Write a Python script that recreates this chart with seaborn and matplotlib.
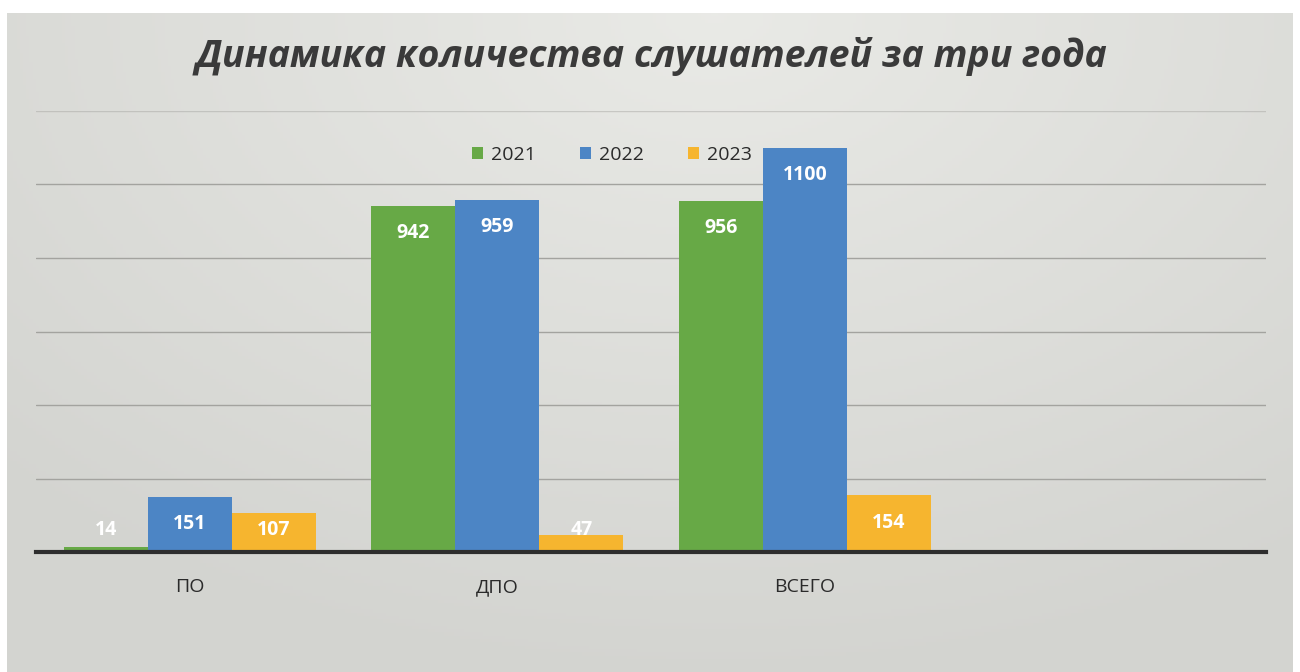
import numpy as np
import pandas as pd
import matplotlib
matplotlib.use("Agg")
import matplotlib.pyplot as plt
import seaborn as sns

# ---- data ----
categories = ["ПО", "ДПО", "ВСЕГО", ""]
years = ["2021", "2022", "2023"]
values_2021 = [14, 942, 956]
values_2022 = [151, 959, 1100]
values_2023 = [107, 47, 154]
title_text = "Динамика количества слушателей за три года"

colors = ["#67a946", "#4c85c5", "#f6b52f"]

rows = []
for yr, vals in zip(years, [values_2021, values_2022, values_2023]):
    for cat, v in zip(categories[:3], vals):
        rows.append({"cat": cat, "year": yr, "value": v})
df = pd.DataFrame(rows)

sns.set_theme(style="white")
plt.rcParams["font.family"] = ["Open Sans", "DejaVu Sans"]

W, H = 1300, 672
fig = plt.figure(figsize=(W / 100, H / 100), dpi=100, facecolor="white")

# scanned-paper background
bg = fig.add_axes([7 / W, 0, (1292 - 7) / W, (H - 13) / H])
yy, xx = np.mgrid[0:1:200j, 0:1:400j]
d = np.sqrt(((xx - 0.55) * 1.3) ** 2 + (yy * 1.0) ** 2)
val = 0.915 - 0.085 * np.clip(d, 0, 1)
img = np.dstack([val, val + 0.003, val - 0.012])
bg.imshow(np.clip(img, 0, 1), aspect="auto", extent=[0, 1, 0, 1], origin="upper")
bg.set_axis_off()

ax = fig.add_axes([36 / W, 1 - 552 / H, (1266 - 36) / W, (552 - 111) / H])
ax.patch.set_alpha(0)

sns.barplot(data=df, x="cat", y="value", hue="year", order=categories,
            hue_order=years, palette=colors, width=0.82, gap=0,
            saturation=1, ax=ax, legend=True, edgecolor="none", linewidth=0)

ax.set_xlim(-0.5, len(categories) - 0.5)
ax.set_ylim(0, 1200)
ax.set_yticks(range(200, 1201, 200))
ax.yaxis.grid(True, color="#a3a39f", linewidth=1.0)
gl = ax.get_ygridlines()
gl[-1].set_alpha(0.45)
ax.set_axisbelow(True)
ax.tick_params(axis="y", left=False, labelleft=False)
ax.tick_params(axis="x", bottom=False, pad=13, labelsize=14, labelcolor="#2a2a2a")
ax.set_xlabel("")
ax.set_ylabel("")
for s in ["top", "left", "right"]:
    ax.spines[s].set_visible(False)
ax.spines["bottom"].set_color("#2e2e2e")
ax.spines["bottom"].set_linewidth(3)

# data labels
for cont in ax.containers:
    for bar in cont:
        h = bar.get_height()
        if np.isnan(h):
            continue
        cx = bar.get_x() + bar.get_width() / 2
        ax.text(cx, max(h - 75, 60), f"{int(round(h))}", ha="center", va="center",
                color="white", fontsize=14, fontweight="bold")

# legend
handles, labels = ax.get_legend_handles_labels()
ax.legend_.remove()
fig.legend(handles, labels, loc="center", bbox_to_anchor=(612 / W, 1 - 155 / H),
           ncol=3, frameon=False, fontsize=14, handlelength=0.55, handleheight=0.55,
           handletextpad=0.4, columnspacing=2.3, labelcolor="#2a2a2a")

fig.text(651 / W, 1 - 57 / H, title_text, ha="center", va="center",
         fontsize=27, fontweight="bold", fontstyle="italic", color="#3a3a3a")

fig.savefig("out.png", dpi=100, facecolor="white")
